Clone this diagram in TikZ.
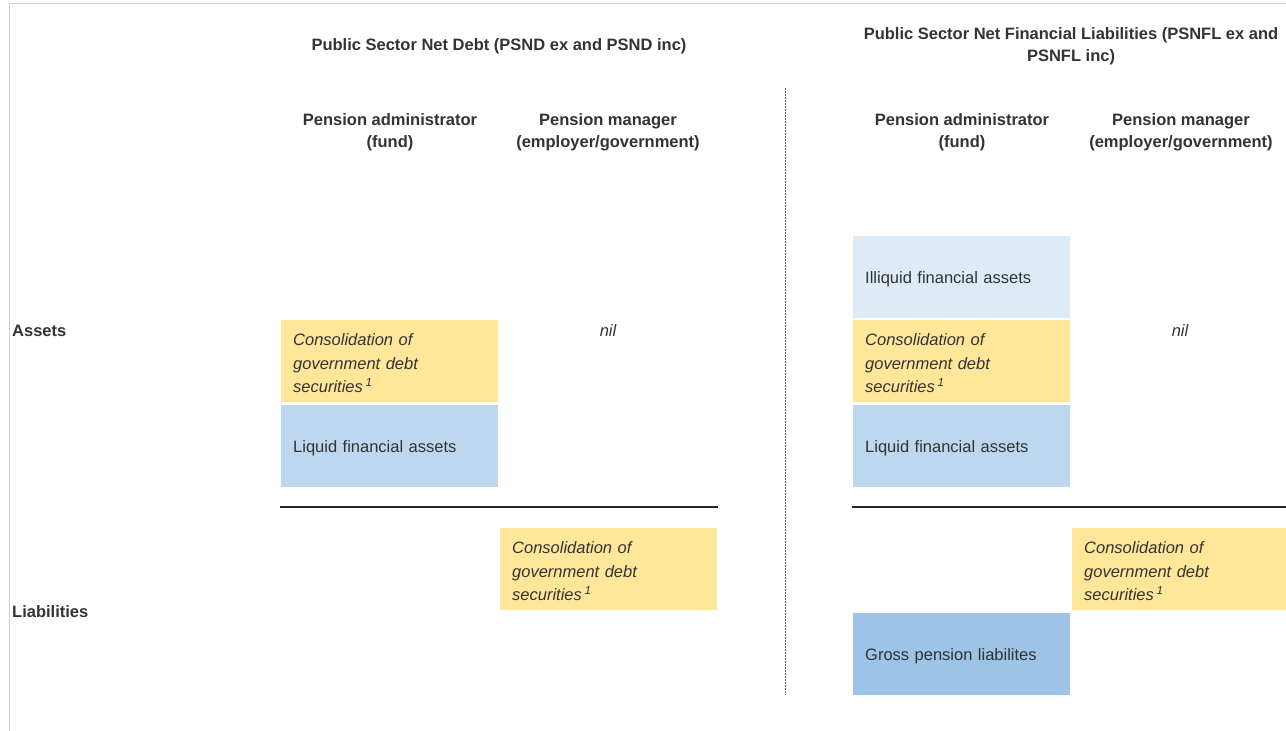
\documentclass[tikz,border=0pt]{standalone}
\usepackage{fontspec}
\setmainfont{Liberation Sans}
\definecolor{txt}{HTML}{333333}
\definecolor{ylw}{HTML}{FFE699}
\definecolor{lblue}{HTML}{BDD7EE}
\definecolor{pblue}{HTML}{DDEBF7}
\definecolor{dblue}{HTML}{9DC3E6}
\definecolor{frame}{HTML}{D0D0D0}
\newcommand{\lowr}[1]{\raisebox{-2pt}[\height][\depth]{#1}}
\begin{document}
\begin{tikzpicture}[x=1pt,y=-1pt,
  every node/.style={text=txt, font=\fontsize{16.5}{23.5}\selectfont},
  head/.style={font=\fontsize{16.5}{22}\selectfont\bfseries, align=center, inner sep=0pt},
  rowlab/.style={font=\fontsize{16.5}{22}\selectfont\bfseries, anchor=west, inner sep=0pt},
  cell/.style={anchor=north west, minimum height=82pt, text width=193pt, inner xsep=12pt, inner ysep=0pt, align=left},
  cons/.style={cell, fill=ylw, font=\fontsize{16.5}{23.5}\selectfont\itshape},
  nilt/.style={font=\fontsize{16.5}{22}\selectfont\itshape, inner sep=0pt},
  rule/.style={draw=black!85, line width=2pt},
  divider/.style={draw=gray!80!black, line width=1pt, dash pattern=on 2pt off 1pt}
]
\useasboundingbox (0,0) rectangle (1286,731);
\fill[white] (0,0) rectangle (1286,731);
% frame
\coordinate (ftl) at (9.5,3.5);
\coordinate (ftr) at (1286,3.5);
\coordinate (fbl) at (9.5,731);
\draw[frame, line width=1pt] (fbl) -- (ftl) -- (ftr);

% headers
\node[head] (h1) at (499,46.5) {Public Sector Net Debt (PSND ex and PSND inc)};
\node[head] (h2) at (1071,46.5) {Public Sector Net Financial Liabilities (PSNFL ex and\\PSNFL inc)};
\node[head] (c1) at (390,132) {Pension administrator\\(fund)};
\node[head] (c2) at (608,132) {Pension manager\\(employer/government)};
\node[head] (c3) at (962,132) {Pension administrator\\(fund)};
\node[head] (c4) at (1181,132) {Pension manager\\(employer/government)};

% row labels
\node[rowlab] (assets) at (12,331) {Assets};
\node[rowlab] (liab) at (12,612) {Liabilities};

% divider
\coordinate (dtop) at (785.5,88);
\coordinate (dbot) at (785.5,695);
\draw[divider] (dtop) -- (dbot);

% left block
\node[cons] (lcons) at (281,320) {\lowr{Consolidation of}\\\lowr{government debt}\\\lowr{securities\,\textsuperscript{1}}};
\node[cell, fill=lblue] (lliq) at (281,405) {\lowr{Liquid financial assets}};
\node[nilt] (lnil) at (608,331) {nil};
\coordinate (lr1) at (280,507);
\coordinate (lr2) at (718,507);
\draw[rule] (lr1) -- (lr2);
\node[cons] (lcons2) at (500,528) {\lowr{Consolidation of}\\\lowr{government debt}\\\lowr{securities\,\textsuperscript{1}}};

% right block
\node[cell, fill=pblue] (rill) at (853,236) {\lowr{Illiquid financial assets}};
\node[cons] (rcons) at (853,320) {\lowr{Consolidation of}\\\lowr{government debt}\\\lowr{securities\,\textsuperscript{1}}};
\node[cell, fill=lblue] (rliq) at (853,405) {\lowr{Liquid financial assets}};
\node[nilt] (rnil) at (1180,331) {nil};
\coordinate (rr1) at (852,507);
\coordinate (rr2) at (1286,507);
\draw[rule] (rr1) -- (rr2);
\node[cons] (rcons2) at (1072,528) {\lowr{Consolidation of}\\\lowr{government debt}\\\lowr{securities\,\textsuperscript{1}}};
\node[cell, fill=dblue] (rgross) at (853,613) {\lowr{Gross pension liabilites}};
\end{tikzpicture}
\end{document}
